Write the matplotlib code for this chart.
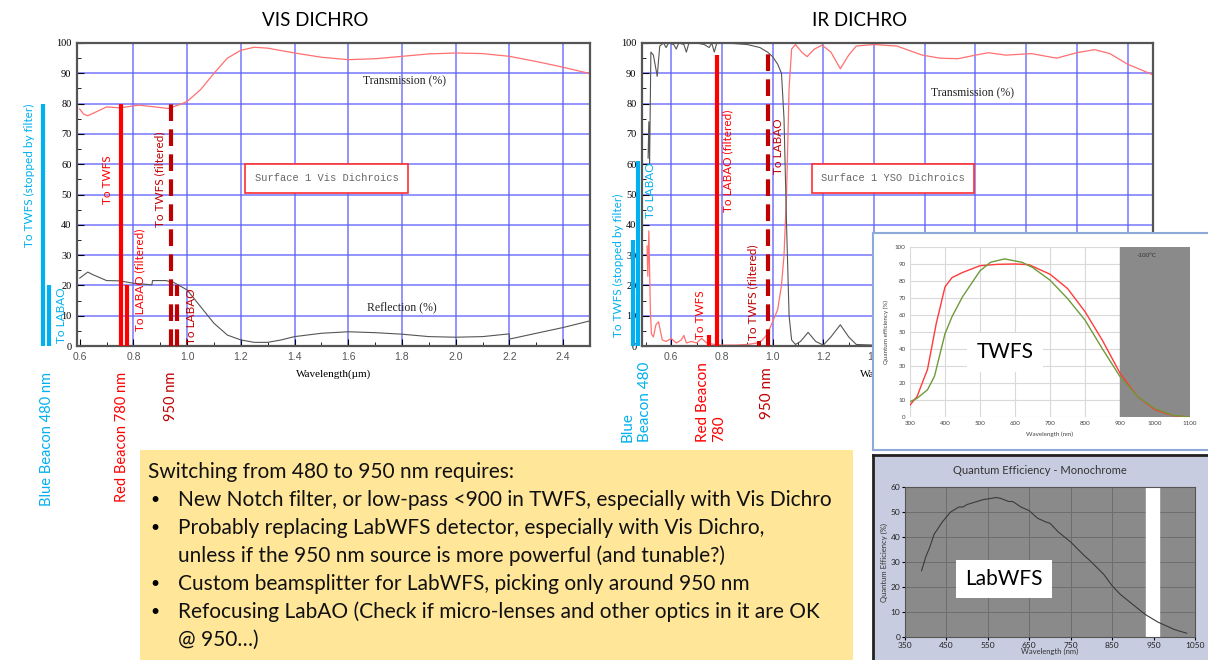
import matplotlib.pyplot as plt
from matplotlib.ticker import MultipleLocator

plt.rcParams['font.family'] = ['Lato', 'DejaVu Sans']
SERIF = ['Liberation Serif', 'DejaVu Serif']
MONO = ['Liberation Mono', 'DejaVu Sans Mono']

W, H = 1208, 660
fig = plt.figure(figsize=(W / 100, H / 100), dpi=100)


def px_axes(x0, y0, x1, y1, **kw):
    return fig.add_axes([x0 / W, 1 - y1 / H, (x1 - x0) / W, (y1 - y0) / H], **kw)


BLUE = '#00b0f0'
RED = '#ff0000'
DRED = '#c00000'
GRID = '#5f5fff'

# ---------------------------------------------------------------- data
vis_t_wl = [0.60, 0.615, 0.63, 0.65, 0.70, 0.75, 0.82, 0.88, 0.93, 0.97, 1.00, 1.05, 1.10, 1.15,
            1.20, 1.25, 1.30, 1.40, 1.50, 1.60, 1.70, 1.80, 1.90, 2.00, 2.10, 2.20, 2.30, 2.40, 2.50]
vis_t = [78.2, 76.5, 76.0, 76.8, 78.9, 78.6, 79.5, 78.9, 78.4, 79.6, 80.7, 84.6, 90.0, 95.0,
         97.6, 98.6, 98.3, 96.7, 95.3, 94.5, 94.8, 95.6, 96.4, 96.7, 96.5, 95.6, 93.9, 92.0, 89.9]

vis_r_wl = [0.60, 0.63, 0.65, 0.70, 0.75, 0.80, 0.869, 0.871, 0.92, 0.95, 1.00, 1.05, 1.10, 1.15,
            1.20, 1.25, 1.30, 1.35, 1.40, 1.50, 1.60, 1.70, 1.80, 1.90, 2.00, 2.10, 2.199, 2.201,
            2.30, 2.40, 2.50]
vis_r = [22.4, 24.4, 23.5, 21.6, 21.5, 20.7, 20.2, 21.6, 21.6, 21.0, 18.5, 13.0, 7.5, 3.6,
         2.0, 1.2, 1.2, 2.0, 3.1, 4.2, 4.7, 4.4, 3.9, 3.1, 2.9, 3.1, 4.0, 2.3,
         4.2, 6.1, 8.3]

ir_t_wl = [0.505, 0.508, 0.512, 0.518, 0.522, 0.53, 0.54, 0.55, 0.555, 0.565, 0.58, 0.60, 0.62,
           0.64, 0.65, 0.66, 0.68, 0.70, 0.72, 0.74, 0.77, 0.80, 0.85, 0.90, 0.94, 0.96, 0.98,
           1.00, 1.02, 1.035, 1.045, 1.055, 1.065, 1.075, 1.09, 1.115, 1.136, 1.165, 1.195, 1.23,
           1.267, 1.30, 1.33, 1.40, 1.45, 1.49, 1.54, 1.59, 1.66, 1.73, 1.80, 1.85, 1.92, 2.02,
           2.12, 2.20, 2.27, 2.33, 2.40, 2.50]
ir_t = [33, 23, 38, 12, 4, 3, 7, 8, 6, 2, 1.5, 2.5, 1,
        2, 3.5, 1, 1.5, 1, 2.5, 1, 0.5, 0.3, 0.3, 0.5, 1, 2, 4,
        8, 12, 20, 30, 50, 85, 98, 99.5, 97, 95.5, 98, 99.3, 97,
        91.5, 96, 99, 99.5, 99.2, 99, 97.5, 96, 95, 94.8, 96, 96.8, 96, 96.5,
        95, 96.8, 97.8, 96.5, 93, 89.5]

ir_r_wl = [0.509, 0.512, 0.515, 0.52, 0.53, 0.545, 0.555, 0.57, 0.58, 0.59, 0.61, 0.62, 0.63,
           0.65, 0.66, 0.67, 0.70, 0.73, 0.75, 0.76, 0.77, 0.78, 0.80, 0.85, 0.90, 0.95, 0.98,
           1.00, 1.02, 1.035, 1.045, 1.055, 1.065, 1.075, 1.09, 1.11, 1.14, 1.17, 1.20, 1.23,
           1.267, 1.30, 1.33, 1.40, 1.60, 1.80, 2.00, 2.20, 2.50]
ir_r = [62, 74, 60, 97, 96, 89, 99, 100, 98.5, 100, 99.5, 98, 100,
        99.5, 97, 100, 100, 99.5, 98.5, 100, 97, 100, 100, 99.8, 99.5, 98.5, 97,
        95.5, 93, 90, 75, 40, 10, 2, 0.5, 1.5, 4.5, 1.5, 0.3, 3,
        7, 3, 0.5, 0.3, 0.5, 0.5, 0.5, 0.5, 0.5]

# beam markers: wavelength, top (%), colour, style, label, label position
vis_mk_x = [0.463, 0.485, 0.752, 0.778, 0.94, 0.964]
vis_mk_top = [80, 20, 80, 20, 80, 20]
vis_mk_col = [BLUE, BLUE, RED, RED, DRED, DRED]
vis_mk_ls = ['-', '-', '-', '-', '--', '--']
vis_mk_lab = ['To TWFS (stopped by filter)', 'To LABAO', 'To TWFS', 'To LABAO (filtered)',
              'To TWFS (filtered)', 'To LABAO']
vis_lab_x = [0.414, 0.533, 0.704, 0.823, 0.897, 1.016]
vis_lab_y = [56.4, 10.2, 55.0, 22.0, 55.0, 9.7]

ir_mk_x = [0.45, 0.47, 0.75, 0.78, 0.947, 0.98]
ir_mk_top = [35, 61, 3.5, 96, 1.5, 97]
ir_mk_col = [BLUE, BLUE, RED, RED, DRED, DRED]
ir_mk_ls = ['-', '-', '-', '-', '-', '--']
ir_mk_lab = ['To TWFS (stopped by filter)', 'To LABAO', 'To TWFS', 'To LABAO (filtered)',
             'To TWFS (filtered)', 'To LABAO']
ir_lab_x = [0.391, 0.517, 0.714, 0.825, 0.92, 1.022]
ir_lab_y = [26.7, 51.5, 10.2, 61.0, 17.8, 66.0]

vis_beacons = ['Blue Beacon 480 nm', 'Red Beacon 780 nm', '950 nm']
vis_beacon_x = [0.48, 0.756, 0.94]
ir_beacons = ['Blue\nBeacon 480', 'Red Beacon\n780', '950 nm']
ir_beacon_x = [0.462, 0.758, 0.979]
beacon_col = [BLUE, RED, DRED]

twfs_r_wl = [300, 320, 350, 375, 400, 420, 450, 500, 550, 600, 640, 700, 750, 800, 850, 900,
             950, 1000, 1050, 1100]
twfs_r = [7, 12, 28, 55, 76.5, 82, 85, 89, 89.8, 90, 89.6, 84, 75.6, 62, 45, 25.8,
          12, 4.3, 0.8, 0]
twfs_g_wl = [300, 320, 350, 370, 400, 420, 450, 500, 530, 570, 620, 650, 700, 750, 800, 850,
             900, 950, 1000, 1050, 1100]
twfs_g = [9, 11, 16, 24, 49, 59, 70.7, 86, 91, 93, 91, 88, 80.5, 69.7, 57, 40,
          23.8, 12, 5, 1, 0]
twfs_cold = (900, 1100)

lab_wl = [390, 400, 410, 420, 440, 460, 480, 490, 500, 520, 540, 560, 570, 580, 600, 610, 630,
          650, 670, 690, 700, 720, 750, 780, 800, 830, 850, 870, 900, 930, 960, 980, 1000, 1030]
lab_qe = [26.5, 32, 36, 41, 46, 50, 52, 52, 53, 54, 55, 55.5, 55.8, 55.5, 54.2, 54.2, 52,
          50.5, 47.5, 46, 45.5, 42, 38, 33, 30, 25, 20.5, 17, 13, 9, 6, 4.5, 3, 1.5]
lab_band = (932, 963)

box_lines = [
    ('', 'Switching from 480 to 950 nm requires:'),
    ('•', 'New Notch filter, or low-pass <900 in TWFS, especially with Vis Dichro'),
    ('•', 'Probably replacing LabWFS detector, especially with Vis Dichro,'),
    ('', 'unless if the 950 nm source is more powerful (and tunable?)'),
    ('•', 'Custom beamsplitter for LabWFS, picking only around 950 nm'),
    ('•', 'Refocusing LabAO (Check if micro-lenses and other optics in it are OK'),
    ('', '@ 950…)'),
]


# ---------------------------------------------------------------- dichro charts
def dichro(ax, xlim, grid_x, wl_t, t, wl_r, r):
    ax.set_xlim(*xlim)
    ax.set_ylim(0, 100)
    for gx in grid_x:
        ax.axvline(gx, color=GRID, lw=1.1, alpha=0.85, zorder=0)
    for gy in range(10, 100, 10):
        ax.axhline(gy, color=GRID, lw=1.1, alpha=0.85, zorder=0)
    ax.plot(wl_t, t, color='#ff7070', lw=0.9)
    ax.plot(wl_r, r, color='#555555', lw=0.8)
    ax.set_xticks([0.6, 0.8, 1.0, 1.2, 1.4, 1.6, 1.8, 2.0, 2.2, 2.4])
    ax.set_xticklabels(['0.6', '0.8', '1.0', '1.2', '1.4', '1.6', '1.8', '2.0', '2.2', '2.4'],
                       color='#555555', fontsize=7.5, family=['Liberation Sans'])
    ax.xaxis.set_minor_locator(MultipleLocator(0.1))
    ax.set_yticks(range(0, 101, 10))
    ax.set_yticklabels([str(v) for v in range(0, 101, 10)], fontsize=7.5, family=SERIF)
    ax.yaxis.set_minor_locator(MultipleLocator(5))
    ax.tick_params(which='both', direction='in', top=False, right=False, pad=4)
    ax.tick_params(which='major', length=5)
    ax.tick_params(which='minor', length=3)
    for s in ax.spines.values():
        s.set_color('#555555')
        s.set_linewidth(1.6)
    ax.set_xlabel('Wavelength(µm)', family=SERIF, fontsize=8, labelpad=6)


def markers(ax, xs, tops, cols, lss, labs, lx, ly):
    for x, top, c, ls in zip(xs, tops, cols, lss):
        ax.plot([x, x], [0, top], color=c, lw=3, ls=ls, dashes=(4, 2) if ls == '--' else (None, None),
                clip_on=False, solid_capstyle='butt', zorder=4)
    for lab, x, y, c in zip(labs, lx, ly, cols):
        ax.text(x, y, lab, rotation=90, color=c, fontsize=8.5, ha='center', va='center',
                clip_on=False, zorder=5)


ax1 = px_axes(77, 43, 590, 346)
dichro(ax1, (0.59, 2.5), [0.8, 1.0, 1.2, 1.4, 1.6, 1.8, 2.0, 2.2, 2.4], vis_t_wl, vis_t, vis_r_wl, vis_r)
markers(ax1, vis_mk_x, vis_mk_top, vis_mk_col, vis_mk_ls, vis_mk_lab, vis_lab_x, vis_lab_y)
ax1.text(1.81, 87.5, 'Transmission (%)', family=SERIF, fontsize=8.5, ha='center', va='center', color='#222222')
ax1.text(1.80, 12.9, 'Reflection (%)', family=SERIF, fontsize=8.5, ha='center', va='center', color='#222222')
ax1.text(1.519, 55.4, 'Surface 1 Vis Dichroics', family=MONO, fontsize=7.5, color='#666666',
         ha='center', va='center',
         bbox=dict(boxstyle='square,pad=0.9', fc='white', ec='#ff3030', lw=1.2))
for lab, x, c in zip(vis_beacons, vis_beacon_x, beacon_col):
    ax1.text(x, -8.5, lab, rotation=90, color=c, fontsize=10.5, ha='center', va='top', clip_on=False)

ax2 = px_axes(642, 43, 1153, 346)
dichro(ax2, (0.485, 2.5), [0.6, 0.8, 1.0, 1.2, 1.4, 1.6, 1.8, 2.0, 2.2, 2.4], ir_t_wl, ir_t, ir_r_wl, ir_r)
markers(ax2, ir_mk_x, ir_mk_top, ir_mk_col, ir_mk_ls, ir_mk_lab, ir_lab_x, ir_lab_y)
ax2.text(1.79, 83.5, 'Transmission (%)', family=SERIF, fontsize=8.5, ha='center', va='center', color='#222222')
ax2.text(1.474, 55.4, 'Surface 1 YSO Dichroics', family=MONO, fontsize=7.5, color='#666666',
         ha='center', va='center',
         bbox=dict(boxstyle='square,pad=0.9', fc='white', ec='#ff3030', lw=1.2))
for lab, x, c in zip(ir_beacons, ir_beacon_x, beacon_col):
    if lab == '950 nm':
        ax2.text(x, -7.0, lab, rotation=90, color=c, fontsize=11, ha='center', va='top', clip_on=False)
    else:
        ax2.text(x, -31.7, lab, rotation=90, color=c, fontsize=11, ha='center', va='bottom',
                 multialignment='left', clip_on=False, linespacing=1.25)

fig.text(315 / W, 1 - 20 / H, 'VIS DICHRO', ha='center', va='center', fontsize=13.5)
fig.text(860 / W, 1 - 20 / H, 'IR DICHRO', ha='center', va='center', fontsize=13.5)

# ---------------------------------------------------------------- TWFS inset
axf = px_axes(873, 233, 1214, 450)
axf.set_xticks([])
axf.set_yticks([])
for s in axf.spines.values():
    s.set_color('#8eaadb')
    s.set_linewidth(1.5)

ax3 = px_axes(910, 247, 1190, 417)
ax3.set_xlim(300, 1100)
ax3.set_ylim(0, 100)
ax3.set_xticks(range(300, 1101, 100))
ax3.set_yticks(range(0, 101, 10))
ax3.grid(True, color='#d9d9d9', lw=0.8)
ax3.set_axisbelow(True)
ax3.axvspan(*twfs_cold, color='#8a8a8a', zorder=1)
ax3.text(975, 95, '-100°C', fontsize=4.5, color='#333333', ha='center', va='center')
ax3.plot(twfs_r_wl, twfs_r, color='#ff3b3b', lw=1, zorder=3)
ax3.plot(twfs_g_wl, twfs_g, color='#6f9a3a', lw=1, zorder=3)
ax3.tick_params(length=0, labelsize=4.5, labelcolor='#444444', pad=3)
for s in ax3.spines.values():
    s.set_visible(False)
ax3.set_xlabel('Wavelength (nm)', fontsize=4.5, color='#444444', labelpad=4)
ax3.set_ylabel('Quantum efficiency (%)', fontsize=4.5, color='#444444', labelpad=4)
ax3.text(571, 38, 'TWFS', fontsize=15, ha='center', va='center', zorder=4,
         bbox=dict(boxstyle='square,pad=0.45', fc='white', ec='none'))

# ---------------------------------------------------------------- LabWFS inset
axg = px_axes(873, 455, 1214, 664, facecolor='#c8cce0')
axg.set_xticks([])
axg.set_yticks([])
for s in axg.spines.values():
    s.set_color('#222222')
    s.set_linewidth(2)
fig.text(1040 / W, 1 - 471 / H, 'Quantum Efficiency - Monochrome', fontsize=8, color='#333333',
         ha='center', va='center')

ax4 = px_axes(905, 487, 1195, 637, facecolor='#8a8a8a')
ax4.set_xlim(350, 1050)
ax4.set_ylim(0, 60)
ax4.set_xticks(range(350, 1051, 100))
ax4.set_yticks(range(0, 61, 10))
ax4.grid(True, color='#6e6e6e', lw=0.7)
ax4.set_axisbelow(True)
ax4.axvspan(*lab_band, color='white', zorder=1)
ax4.plot(lab_wl, lab_qe, color='#3a3a3a', lw=0.8, zorder=3)
ax4.tick_params(length=2, labelsize=6, labelcolor='#222222', pad=1.5)
for s in ax4.spines.values():
    s.set_color('#555555')
    s.set_linewidth(0.8)
ax4.set_xlabel('Wavelength (nm)', fontsize=5.5, color='#333333', labelpad=-1)
ax4.set_ylabel('Quantum Efficiency (%)', fontsize=5.5, color='#333333', labelpad=2)
ax4.text(589, 23.2, 'LabWFS', fontsize=15, ha='center', va='center', zorder=4,
         bbox=dict(boxstyle='square,pad=0.45', fc='white', ec='none'))

# ---------------------------------------------------------------- yellow note
ax5 = px_axes(140, 450, 853, 662, facecolor='#ffe699')
ax5.set_xlim(140, 853)
ax5.set_ylim(662, 450)
ax5.axis('off')
ax5.add_patch(plt.Rectangle((140, 450), 713, 212, color='#ffe699', zorder=0))
line_y = [472, 500, 528, 556, 584, 612, 640]
for (bullet, txt), y in zip(box_lines, line_y):
    if bullet:
        ax5.text(150, y, bullet, fontsize=11.5, va='center', ha='left')
    x0 = 148 if (bullet == '' and y == line_y[0]) else 178
    ax5.text(x0, y, txt, fontsize=15, va='center', ha='left', color='#111111')

fig.savefig('out.png', dpi=100)
